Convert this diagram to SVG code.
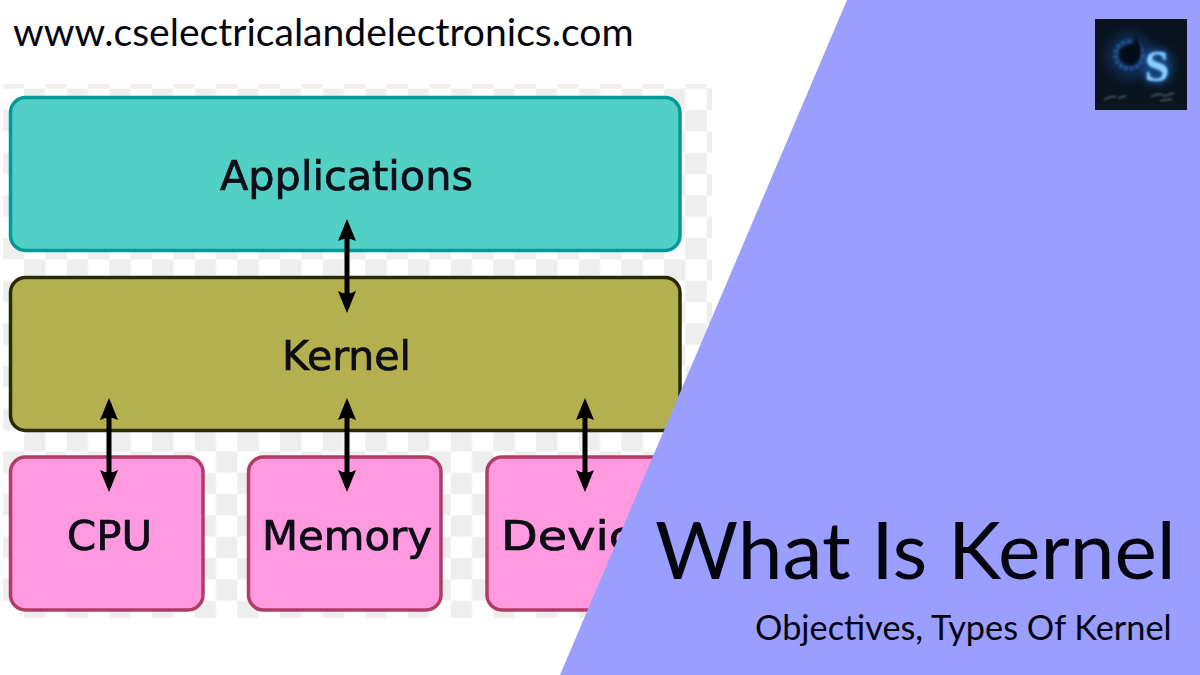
<svg xmlns="http://www.w3.org/2000/svg" width="1200" height="675" viewBox="0 0 1200 675">
<style>
.dj{font-family:"DejaVu Sans",sans-serif;font-size:41px;fill:#0a0a14;stroke:#0a0a14;stroke-width:0.7}
.la{font-family:"Lato","Carlito",sans-serif;fill:#050510}
.b{stroke-width:3.500}
.arrow{stroke:#000;stroke-width:5;fill:none;marker-start:url(#head);marker-end:url(#head)}
</style>
<defs>
<pattern id="check" patternUnits="userSpaceOnUse" x="24" y="88.67" width="42.67" height="42.67">
<rect width="42.67" height="42.67" fill="#fff"/>
<rect x="0" y="0" width="21.33" height="21.33" fill="#eeeeee"/>
<rect x="21.33" y="21.33" width="21.33" height="21.33" fill="#eeeeee"/>
</pattern>
<marker id="head" markerUnits="userSpaceOnUse" markerWidth="24" markerHeight="20" viewBox="0 0 24 20" refX="18" refY="10" orient="auto-start-reverse">
<path d="M2 1 L24 10 L2 19 Q7 10 2 1Z" fill="#000"/>
</marker>
<filter id="soft" x="-2%" y="-2%" width="104%" height="104%"><feGaussianBlur stdDeviation="0.6"/></filter>
<filter id="glow" x="-50%" y="-50%" width="200%" height="200%"><feGaussianBlur stdDeviation="2"/></filter>
<filter id="glow2" x="-50%" y="-50%" width="200%" height="200%"><feGaussianBlur stdDeviation="5"/></filter>
<filter id="soft2" x="-20%" y="-20%" width="140%" height="140%"><feGaussianBlur stdDeviation="1"/></filter>
</defs>
<rect width="1200" height="675" fill="#fff"/>
<g id="picture" filter="url(#soft)">
<rect x="3" y="84" width="709" height="534" fill="url(#check)"/>
<g id="node-applications">
<rect class="b" x="10.500" y="97.500" width="669.500" height="153" rx="15" fill="#52d0c6" stroke="#009a9a"/>
<text class="dj" x="220" y="190" textLength="253" lengthAdjust="spacingAndGlyphs">Applications</text>
</g>
<g id="node-kernel">
<rect class="b" x="10.500" y="277.500" width="669.500" height="153" rx="15" fill="#b5b050" stroke="#2a2a00"/>
<text class="dj" x="282" y="370" textLength="129" lengthAdjust="spacingAndGlyphs">Kernel</text>
</g>
<g id="node-cpu">
<rect class="b" x="10.500" y="457" width="192.500" height="153" rx="15" fill="#ff99e0" stroke="#b03c66"/>
<text class="dj" x="67" y="550" textLength="85" lengthAdjust="spacingAndGlyphs">CPU</text>
</g>
<g id="node-memory">
<rect class="b" x="248.500" y="457" width="192.500" height="153" rx="15" fill="#ff99e0" stroke="#b03c66"/>
<text class="dj" x="262" y="550" textLength="170" lengthAdjust="spacingAndGlyphs">Memory</text>
</g>
<g id="node-device">
<rect class="b" x="487" y="457" width="192.500" height="153" rx="15" fill="#ff99e0" stroke="#b03c66"/>
<text class="dj" x="501" y="550" textLength="134" lengthAdjust="spacingAndGlyphs">Devic</text>
</g>
<g id="connectors">
<line class="arrow" x1="347" y1="225" x2="347" y2="307"/>
<line class="arrow" x1="109" y1="404" x2="109" y2="486"/>
<line class="arrow" x1="347" y1="404" x2="347" y2="486"/>
<line class="arrow" x1="585" y1="404" x2="585" y2="486"/>
</g>
</g>
<text id="url" class="la" x="13" y="46" font-size="39.100">www.cselectricalandelectronics.com</text>
<polygon id="panel" points="847,0 1200,0 1200,675 560,675" fill="#9a9eff"/>
<g id="logo">
<rect x="1095" y="19" width="92" height="91" fill="#0a1420"/>
<ellipse cx="1130" cy="56" rx="24" ry="24" fill="#123a78" opacity="0.5" filter="url(#glow2)"/>
<ellipse cx="1157" cy="66" rx="16" ry="18" fill="#1a5aa8" opacity="0.6" filter="url(#glow2)"/>
<circle cx="1129" cy="55" r="13.500" fill="none" stroke="#245aa0" stroke-width="5" stroke-dasharray="4 1.500" opacity="0.85" filter="url(#soft2)"/>
<path d="M1120 50 Q1128 44 1132 45 L1135 36 Q1143 46 1140 56 Q1136 68 1127 64 Q1119 60 1120 50Z" fill="#050d16" filter="url(#soft2)"/>
<text x="1157" y="81" font-family="Liberation Serif,serif" font-weight="700" font-size="44" text-anchor="middle" fill="#2f86e0" filter="url(#glow)">S</text>
<text x="1157" y="81" font-family="Liberation Serif,serif" font-weight="700" font-size="44" text-anchor="middle" fill="#8fd0ff" filter="url(#soft2)">S</text>
<path d="M1104 100 Q1112 95 1116 97 M1118 98 L1126 96 M1151 97 Q1158 92 1165 96 Q1170 94 1174 93 M1160 101 L1172 99" fill="none" stroke="#a8c4d0" stroke-width="1" opacity="0.7" filter="url(#soft2)"/>
</g>
<text id="title" class="la" x="655" y="579" font-size="80.300">What Is Kernel</text>
<text id="subtitle" class="la" x="755" y="640" font-size="34.300">Objectives, Types Of Kernel</text>
</svg>
